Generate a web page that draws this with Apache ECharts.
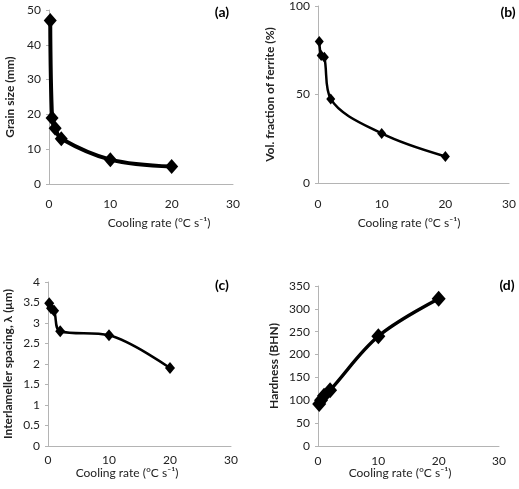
<!DOCTYPE html>
<html>
<head>
<meta charset="utf-8">
<script src="https://cdn.jsdelivr.net/npm/echarts@6/dist/echarts.min.js"></script>
<style>
html,body{margin:0;padding:0;background:#fff;}
#c{width:519px;height:489px;}
</style>
</head>
<body>
<div id="c"></div>
<script>
// Data
const coolingRate = [0.2, 0.5, 1, 2, 10, 20];
const grainSize = [47, 19, 16, 13, 7, 5];
const ferriteFraction = [80, 72, 71, 47.5, 28, 15];
const lamellarSpacing = [3.48, 3.36, 3.3, 2.8, 2.7, 1.9];
const hardness = [92, 100, 110, 122, 240, 322];

const xTicks = [0, 10, 20, 30];
const panelLabels = ['(a)', '(b)', '(c)', '(d)'];
const yTitles = ['Grain size (mm)', 'Vol. fraction of ferrite (%)', 'Interlameller spacing, \u03bb (\u03bcm)', 'Hardness (BHN)'];
const xTitle = 'Cooling rate (\u00b0C s\u207b\u00b9)';

const FONT = 'Lato, "Open Sans", sans-serif';
const axisColor = '#b4b4b4';

function pairs(ys) { return coolingRate.map((x, i) => [x, ys[i]]); }

const grids = [
  {left: 49, top: 10, width: 184, height: 174},
  {left: 318, top: 5, width: 195, height: 178},
  {left: 48, top: 282, width: 183, height: 164},
  {left: 318, top: 286, width: 181, height: 160}
];

const yCfg = [
  {max: 50, interval: 10, gap: 33},
  {max: 100, interval: 50, gap: 42},
  {max: 4, interval: 0.5, gap: 34},
  {max: 350, interval: 50, gap: 38}
];

const xLabelMargin = [14, 15, 8, 9];

const xAxes = grids.map((g, i) => ({
  type: 'value', gridIndex: i, min: 0, max: 30, interval: 10,
  axisLine: {lineStyle: {color: axisColor, width: 1}},
  axisTick: {show: false},
  splitLine: {show: false},
  axisLabel: {color: '#222', fontFamily: FONT, fontSize: 12, margin: xLabelMargin[i]}
}));

const yAxes = grids.map((g, i) => ({
  type: 'value', gridIndex: i, min: 0, max: yCfg[i].max, interval: yCfg[i].interval,
  axisLine: {show: true, lineStyle: {color: axisColor, width: 1}},
  axisTick: {show: true, length: 3, lineStyle: {color: axisColor}},
  splitLine: {show: false},
  axisLabel: {color: '#222', fontFamily: FONT, fontSize: 12, margin: 8},
  name: yTitles[i], nameLocation: 'middle', nameRotate: 90, nameGap: yCfg[i].gap,
  nameTextStyle: {color: '#222', fontFamily: FONT, fontSize: 12, fontWeight: 'bold'}
}));

const seriesData = [grainSize, ferriteFraction, lamellarSpacing, hardness];
const lineW = [4, 2.5, 2.5, 3.5];
const symSize = [[13, 15], [9, 11], [10, 12], [14, 16]];

const series = seriesData.map((d, i) => ({
  type: 'line', xAxisIndex: i, yAxisIndex: i,
  data: pairs(d),
  smooth: 0.35,
  symbol: 'diamond', symbolSize: symSize[i],
  lineStyle: {color: '#000', width: lineW[i]},
  itemStyle: {color: '#000'},
  animation: false
}));

const labelPos = [[222, 12], [508, 12], [222, 285], [507, 285]];
const xTitlePos = [[159, 223], [409, 223], [127, 473], [400, 473]];

const graphic = [];
panelLabels.forEach((t, i) => {
  graphic.push({type: 'text', x: labelPos[i][0], y: labelPos[i][1],
    style: {text: t, fill: '#000', font: 'bold 14px ' + FONT, textAlign: 'center', textVerticalAlign: 'middle'}});
});
xTitlePos.forEach((p) => {
  graphic.push({type: 'text', x: p[0], y: p[1],
    style: {text: xTitle, fill: '#222', font: '12px ' + FONT, textAlign: 'center', textVerticalAlign: 'middle'}});
});

const chart = echarts.init(document.getElementById('c'));
chart.setOption({
  backgroundColor: '#fff',
  animation: false,
  grid: grids,
  xAxis: xAxes,
  yAxis: yAxes,
  series: series,
  graphic: graphic
});
</script>
</body>
</html>
